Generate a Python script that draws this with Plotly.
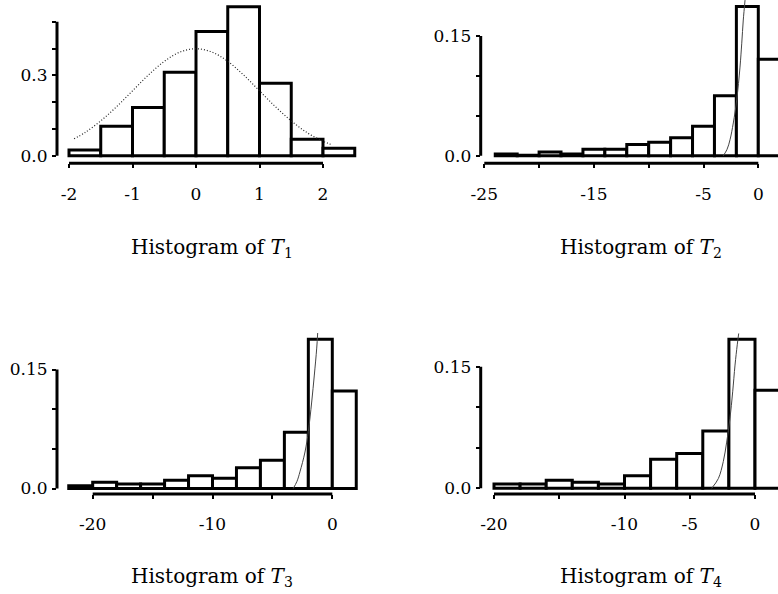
import plotly.graph_objects as go

W, H = 778, 594

# ---------------- data ----------------
# Panel 1: histogram of T1 (bin width 0.5)
t1_left = [-2.0, -1.5, -1.0, -0.5, 0.0, 0.5, 1.0, 1.5, 2.0]
t1_dens = [0.021, 0.110, 0.180, 0.311, 0.463, 0.556, 0.270, 0.061, 0.028]
t1_curve_x = [-1.92, -1.75, -1.5, -1.25, -1.0, -0.75, -0.5, -0.25, 0.0, 0.25, 0.5, 0.75,
              1.0, 1.25, 1.5, 1.75, 2.0, 2.15]
t1_curve_y = [0.063, 0.086, 0.130, 0.183, 0.242, 0.301, 0.352, 0.387, 0.399, 0.387, 0.352,
              0.301, 0.242, 0.183, 0.130, 0.086, 0.054, 0.040]

# Panel 2: histogram of T2 (bin width 2)
t2_left = [-24, -22, -20, -18, -16, -14, -12, -10, -8, -6, -4, -2, 0]
t2_dens = [0.002, 0.0005, 0.0046, 0.002, 0.008, 0.008, 0.014, 0.017, 0.0226, 0.037, 0.075, 0.187, 0.121]
t2_curve_x = [-3.19, -2.85, -2.58, -2.28, -1.97, -1.67, -1.51, -1.37, -1.21]
t2_curve_y = [0.000, 0.008, 0.020, 0.041, 0.070, 0.111, 0.141, 0.170, 0.195]

# Panel 3: histogram of T3 (bin width 2)
t3_left = [-22, -20, -18, -16, -14, -12, -10, -8, -6, -4, -2, 0]
t3_dens = [0.0035, 0.0078, 0.0057, 0.0057, 0.0103, 0.016, 0.013, 0.026, 0.0355, 0.071, 0.188, 0.123]
t3_curve_x = [-3.26, -2.95, -2.70, -2.28, -2.00, -1.72, -1.50, -1.30, -1.22]
t3_curve_y = [0.000, 0.009, 0.021, 0.046, 0.072, 0.109, 0.143, 0.177, 0.196]

# Panel 4: histogram of T4 (bin width 2)
t4_left = [-20, -18, -16, -14, -12, -10, -8, -6, -4, -2, 0]
t4_dens = [0.0053, 0.0053, 0.0099, 0.0074, 0.0053, 0.0156, 0.0358, 0.043, 0.0707, 0.184, 0.121]
t4_curve_x = [-3.32, -2.81, -2.43, -2.17, -1.92, -1.71, -1.53, -1.36, -1.25]
t4_curve_y = [0.000, 0.012, 0.033, 0.057, 0.086, 0.119, 0.152, 0.177, 0.191]

bin_widths = [0.5, 2, 2, 2]

# tick values / labels
x_tickvals = [[-2, -1, 0, 1, 2], [-25, -20, -15, -10, -5, 0], [-20, -15, -10, -5, 0], [-20, -15, -10, -5, 0]]
x_ticktext = [["-2", "-1", "0", "1", "2"], ["-25", "", "-15", "", "-5", "0"],
              ["-20", "", "-10", "", "0"], ["-20", "", "-10", "-5", "0"]]
y_tickvals = [[0, 0.1, 0.2, 0.3, 0.4, 0.5], [0, 0.05, 0.10, 0.15], [0, 0.05, 0.10, 0.15], [0, 0.05, 0.10, 0.15]]
y_ticktext = [["0.0", "", "", "0.3", "", ""], ["0.0", "", "", "0.15"], ["0.0", "", "", "0.15"], ["0.0", "", "", "0.15"]]

titles = ["Histogram of <i>T</i><sub>1</sub>", "Histogram of <i>T</i><sub>2</sub>",
          "Histogram of <i>T</i><sub>3</sub>", "Histogram of <i>T</i><sub>4</sub>"]

# ---------------- layout calibration (pixels) ----------------
# (val1, px1, val2, px2) for x and y; plot-area pixel box (left, right, top, bottom)
xcal = [(-2, 69, 2, 323), (-25, 484.3, 0, 758.3), (-20, 92.7, 0, 332.3), (-20, 494, 0, 755)]
ycal = [(0, 155.7, 0.5, 21.7), (0, 155.7, 0.15, 36), (0, 488.5, 0.15, 369.5), (0, 488.3, 0.15, 366.7)]
boxes = [(57, 365, 0, 163.3), (480.7, 778, 0, 163.3), (57, 365, 332.5, 494), (480.7, 778, 332.5, 494)]
title_pos = [(212, 248), (641, 248), (212, 577), (641, 577)]

lefts = [t1_left, t2_left, t3_left, t4_left]
dens = [t1_dens, t2_dens, t3_dens, t4_dens]
cx = [t1_curve_x, t2_curve_x, t3_curve_x, t4_curve_x]
cy = [t1_curve_y, t2_curve_y, t3_curve_y, t4_curve_y]

FONT = "DejaVu Serif"

fig = go.Figure()
layout = dict(width=W, height=H, margin=dict(l=0, r=0, t=0, b=0),
              paper_bgcolor="white", plot_bgcolor="white", showlegend=False,
              font=dict(family=FONT, size=17, color="black"))
shapes = []
annotations = []

for i in range(4):
    n = "" if i == 0 else str(i + 1)
    xa, ya = "x" + n, "y" + n
    L, R, T, B = boxes[i]
    v1, p1, v2, p2 = xcal[i]
    sx = (p2 - p1) / (v2 - v1)
    xr = [v1 + (L - p1) / sx, v1 + (R - p1) / sx]
    v1, p1, v2, p2 = ycal[i]
    sy = (p2 - p1) / (v2 - v1)
    yr = [v1 + (B - p1) / sy, v1 + (T - p1) / sy]
    xdom = [L / W, R / W]
    ydom = [1 - B / H, 1 - T / H]

    w = bin_widths[i]
    fig.add_trace(go.Bar(
        x=[l + w / 2 for l in lefts[i]], y=dens[i], width=w,
        marker=dict(color="white", line=dict(color="black", width=3)),
        xaxis=xa, yaxis=ya, hoverinfo="skip"))
    fig.add_trace(go.Scatter(
        x=cx[i], y=cy[i], mode="lines",
        line=dict(color="#222222" if i == 0 else "#444444", width=1.2 if i == 0 else 1,
                  dash="1px,2px" if i == 0 else "solid", shape="spline"),
        xaxis=xa, yaxis=ya, hoverinfo="skip"))

    axkey = "xaxis" + n
    aykey = "yaxis" + n
    layout[axkey] = dict(domain=xdom, range=xr, anchor=ya, showgrid=False, zeroline=False,
                         automargin=False, fixedrange=True,
                         showline=False, ticks="outside", ticklen=4, tickwidth=2, tickcolor="black",
                         tickvals=x_tickvals[i], ticktext=x_ticktext[i], ticklabelstandoff=11,
                         tickfont=dict(family=FONT, size=17))
    layout[aykey] = dict(domain=ydom, range=yr, anchor=xa, showgrid=False, zeroline=False,
                         automargin=False, fixedrange=True,
                         showline=False, ticks="outside", ticklen=4, tickwidth=2, tickcolor="black",
                         tickvals=y_tickvals[i], ticktext=y_ticktext[i], ticklabelstandoff=1,
                         tickfont=dict(family=FONT, size=17))
    # axis lines spanning tick range only (R style)
    shapes.append(dict(type="line", xref=xa, yref="paper",
                       x0=x_tickvals[i][0], x1=x_tickvals[i][-1], y0=ydom[0], y1=ydom[0],
                       line=dict(color="black", width=3)))
    shapes.append(dict(type="line", xref="paper", yref=ya,
                       x0=xdom[0], x1=xdom[0], y0=y_tickvals[i][0], y1=y_tickvals[i][-1],
                       line=dict(color="black", width=3)))
    tx, ty = title_pos[i]
    annotations.append(dict(text=titles[i], xref="paper", yref="paper", x=tx / W, y=1 - ty / H,
                            xanchor="center", yanchor="middle", showarrow=False,
                            font=dict(family=FONT, size=20)))

layout["shapes"] = shapes
layout["annotations"] = annotations
fig.update_layout(**layout)
fig.write_html("out.html")
